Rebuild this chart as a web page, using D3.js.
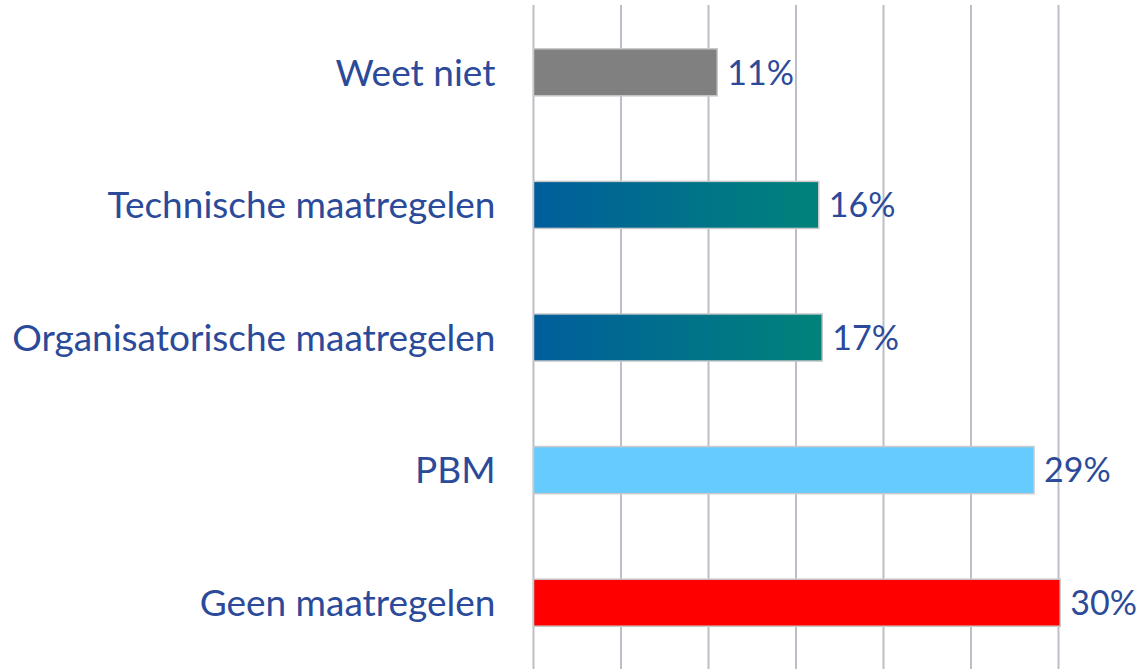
<!DOCTYPE html>
<html>
<head>
<meta charset="utf-8">
<script src="https://cdn.jsdelivr.net/npm/d3@7"></script>
<style>
  body { margin: 0; background: #fff; }
  text { font-family: Lato, "Open Sans", sans-serif; fill: #2C4A9A; }
</style>
</head>
<body>
<div id="chart"></div>
<script>
// chart data
var categories = ["Weet niet", "Technische maatregelen", "Organisatorische maatregelen", "PBM", "Geen maatregelen"];
var values = [10.5, 16.3, 16.5, 28.6, 30.1];
var valueLabels = ["11%", "16%", "17%", "29%", "30%"];
var fills = ["#808080", "url(#teal)", "url(#teal)", "#66CCFF", "#FF0000"];
var gridTicks = [0, 5, 10, 15, 20, 25, 30];

var width = 1139, height = 669;
var margin = { top: 6, right: 80, bottom: 0, left: 533.5 };
var innerW = 1058.5 - margin.left,
    innerH = height - margin.top - margin.bottom;

var svg = d3.select("#chart").append("svg")
    .attr("width", width)
    .attr("height", height);

// gradient for the two "maatregelen" bars
var grad = svg.append("defs").append("linearGradient")
    .attr("id", "teal")
    .attr("x1", "0%").attr("x2", "100%")
    .attr("y1", "0%").attr("y2", "0%");
grad.append("stop").attr("offset", "0%").attr("stop-color", "#005E9C");
grad.append("stop").attr("offset", "100%").attr("stop-color", "#00837A");

var g = svg.append("g")
    .attr("transform", "translate(" + margin.left + "," + margin.top + ")");

var x = d3.scaleLinear()
    .domain([0, 30])
    .range([0, innerW]);

var y = d3.scaleBand()
    .domain(categories)
    .range([0, innerH])
    .paddingInner(0.645)
    .paddingOuter(0.3225);

// vertical gridlines
g.selectAll(".grid")
    .data(gridTicks)
    .enter().append("line")
    .attr("class", "grid")
    .attr("x1", function(d) { return x(d); })
    .attr("x2", function(d) { return x(d); })
    .attr("y1", -1)
    .attr("y2", innerH)
    .style("stroke", "#BCBFC7")
    .style("stroke-width", 2);

// bars
g.selectAll(".bar")
    .data(categories)
    .enter().append("rect")
    .attr("class", "bar")
    .attr("x", x(0))
    .attr("y", function(d) { return y(d); })
    .attr("width", function(d, i) { return x(values[i]) - x(0); })
    .attr("height", y.bandwidth())
    .attr("fill", function(d, i) { return fills[i]; })
    .style("stroke", "#C9C9CC")
    .style("stroke-width", 1.5);

// value labels
g.selectAll(".value")
    .data(categories)
    .enter().append("text")
    .attr("class", "value")
    .attr("x", function(d, i) { return x(values[i]) + 10; })
    .attr("y", function(d) { return y(d) + y.bandwidth() / 2; })
    .attr("dy", "0.36em")
    .style("font-size", "34px")
    .text(function(d, i) { return valueLabels[i]; });

// category labels
g.selectAll(".cat")
    .data(categories)
    .enter().append("text")
    .attr("class", "cat")
    .attr("x", -38)
    .attr("y", function(d) { return y(d) + y.bandwidth() / 2; })
    .attr("dy", "0.36em")
    .attr("text-anchor", "end")
    .style("font-size", "37px")
    .text(function(d) { return d; });
</script>
</body>
</html>
